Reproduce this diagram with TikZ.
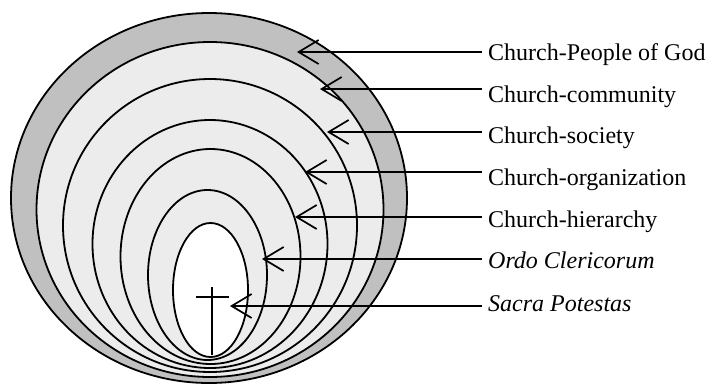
\documentclass[tikz,border=0pt]{standalone}
\usepackage{fontspec}
\setmainfont{Liberation Serif}
\usetikzlibrary{arrows.meta}
\definecolor{ringdark}{RGB}{192,192,192}
\definecolor{ringlight}{RGB}{236,236,236}
\begin{document}
\begin{tikzpicture}[x=1pt,y=-1pt,
  ring/.style={draw=black,line width=1.8pt},
  arr/.style={draw=black,line width=1.7pt,-{Straight Barb[length=20pt,width=24pt]}},
  lab/.style={anchor=base west,inner sep=0pt,font=\fontsize{24}{28}\selectfont}]
\useasboundingbox[fill=white] (0,0) rectangle (711,384);
% ellipses
\path[ring,fill=ringdark]  (209,198)   ellipse [x radius=198pt, y radius=185pt];
\path[ring,fill=ringlight] (210,209.5) ellipse [x radius=173.5pt, y radius=167.5pt];
\path[ring,fill=ringlight] (210,225.5) ellipse [x radius=147pt, y radius=146.5pt];
\path[ring,fill=ringlight] (210,244)   ellipse [x radius=117.5pt, y radius=124pt];
\path[ring,fill=ringlight] (210.5,256.5) ellipse [x radius=90pt, y radius=107.5pt];
\path[ring,fill=ringlight] (207.5,275) ellipse [x radius=59.5pt, y radius=85pt];
\path[ring,fill=white]     (210.5,290) ellipse [x radius=37.5pt, y radius=67pt];
% cross
\coordinate (ctop) at (212,287);
\coordinate (cbot) at (212,355);
\coordinate (cl) at (196,297);
\coordinate (cr) at (229,297);
\draw[line width=1.4pt] (ctop) -- (cbot);
\draw[line width=1.4pt] (cl) -- (cr);
% labels
\node[lab] (l1) at (488,60) {Church-People of God};
\node[lab] (l2) at (488,102) {Church-community};
\node[lab] (l3) at (488,143) {Church-society};
\node[lab] (l4) at (488,185) {Church-organization};
\node[lab] (l5) at (488,227) {Church-hierarchy};
\node[lab] (l6) at (488,268) {\itshape Ordo Clericorum};
\node[lab] (l7) at (488,311) {\itshape Sacra Potestas};
% arrow ends
\foreach \i/\y/\tx in {1/52/297, 2/89/320, 3/132/327, 4/172/305, 5/217/295, 6/259/262, 7/306/230} {
  \coordinate (s\i) at (482,\y);
  \coordinate (t\i) at (\tx,\y);
  \draw[arr] (s\i) -- (t\i);
}
\end{tikzpicture}
\end{document}
